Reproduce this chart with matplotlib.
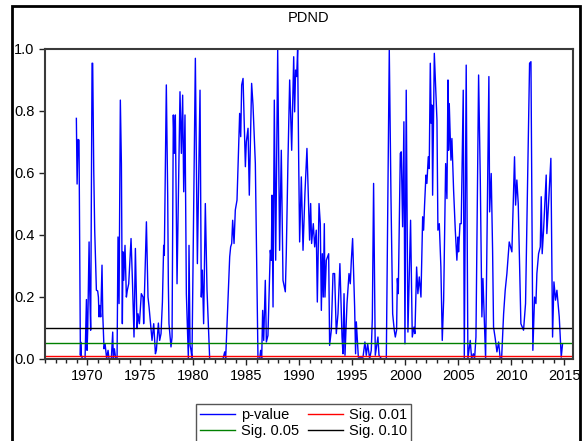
# coding: utf-8
import matplotlib
matplotlib.use('Agg')
import matplotlib.pyplot as plt
from matplotlib.patches import Rectangle
from matplotlib.ticker import MultipleLocator, FormatStrFormatter

###### data ######
years = [1968.96, 1969.03, 1969.12, 1969.21, 1969.34, 1969.37, 1969.43, 1969.53, 1969.78, 1969.91,
         1969.97, 1970.03, 1970.16, 1970.22, 1970.31, 1970.44, 1970.50, 1970.60, 1970.69, 1970.85,
         1970.97, 1971.04, 1971.10, 1971.16, 1971.26, 1971.38, 1971.45, 1971.57, 1971.67, 1971.82,
         1971.95, 1972.04, 1972.26, 1972.39, 1972.45, 1972.55, 1972.67, 1972.80, 1972.89, 1972.99,
         1973.11, 1973.21, 1973.30, 1973.36, 1973.43, 1973.55, 1973.68, 1973.77, 1973.90, 1974.12,
         1974.25, 1974.40, 1974.53, 1974.69, 1974.78, 1974.91, 1975.09, 1975.25, 1975.31, 1975.57,
         1975.72, 1975.82, 1976.01, 1976.10, 1976.26, 1976.42, 1976.51, 1976.70, 1976.82, 1976.95,
         1977.08, 1977.20, 1977.26, 1977.45, 1977.58, 1977.64, 1977.70, 1977.89, 1977.99, 1978.11,
         1978.21, 1978.30, 1978.46, 1978.74, 1978.87, 1978.99, 1979.09, 1979.21, 1979.34, 1979.53,
         1979.59, 1979.69, 1979.78, 1979.87, 1980.19, 1980.38, 1980.63,
         1980.75, 1980.85, 1980.97, 1981.13, 1981.29, 1981.54, 1982.80, 1982.96, 1983.05, 1983.43,
         1983.52, 1983.62, 1983.71, 1983.84, 1983.96, 1984.12, 1984.37, 1984.47, 1984.56, 1984.69,
         1984.91, 1985.00, 1985.16, 1985.28, 1985.50, 1985.63, 1985.85, 1986.10, 1986.26, 1986.35,
         1986.45, 1986.54, 1986.64, 1986.79, 1986.89, 1987.04, 1987.14, 1987.26, 1987.36, 1987.42,
         1987.52, 1987.64, 1987.77, 1987.96, 1988.14, 1988.30, 1988.46, 1988.68, 1988.77, 1988.93,
         1989.09, 1989.28, 1989.47, 1989.56, 1989.65, 1989.75, 1989.84, 1989.94, 1990.03, 1990.19,
         1990.35, 1990.53, 1990.72, 1990.97, 1991.07, 1991.16, 1991.32, 1991.45, 1991.60, 1991.70,
         1991.86, 1991.98, 1992.08, 1992.17, 1992.26, 1992.36, 1992.42, 1992.55, 1992.77, 1992.86,
         1993.02, 1993.18, 1993.33, 1993.49, 1993.65, 1993.83, 1994.03, 1994.12, 1994.22, 1994.31,
         1994.50, 1994.69, 1994.81, 1994.91, 1995.03, 1995.22, 1995.31, 1995.38, 1995.57, 1996.01,
         1996.19, 1996.32, 1996.45, 1996.64, 1996.79, 1996.89, 1997.01, 1997.17, 1997.42, 1997.52,
         1997.74, 1998.21,
         1998.49, 1998.65, 1998.81, 1998.96, 1999.06, 1999.18, 1999.25, 1999.34, 1999.53, 1999.62,
         1999.75, 1999.87, 1999.97, 2000.09, 2000.25, 2000.50, 2000.66, 2000.82, 2000.91, 2001.07,
         2001.19, 2001.32, 2001.48, 2001.64, 2001.73, 2001.82, 2001.95, 2002.04, 2002.17, 2002.26,
         2002.36, 2002.45, 2002.52, 2002.58, 2002.74, 2002.99, 2003.08, 2003.21, 2003.36, 2003.49,
         2003.62, 2003.81, 2003.93, 2004.03, 2004.09, 2004.15, 2004.31, 2004.40, 2004.56, 2004.72,
         2004.87, 2004.97, 2005.03, 2005.16, 2005.28, 2005.47, 2005.57, 2005.75, 2005.91, 2006.13,
         2006.26, 2006.42, 2006.54, 2006.67, 2006.92, 2007.08, 2007.23, 2007.33, 2007.58, 2007.89,
         2007.96, 2008.11, 2008.24, 2008.33, 2008.49, 2008.65, 2008.81, 2008.96, 2009.09, 2009.28,
         2009.43, 2009.59, 2009.81, 2010.06, 2010.31, 2010.41, 2010.53, 2010.66, 2010.91, 2011.16,
         2011.35, 2011.73, 2011.86, 2012.04, 2012.20, 2012.33, 2012.42, 2012.58, 2012.74, 2012.83,
         2012.92, 2013.05, 2013.30, 2013.36, 2013.52, 2013.74, 2013.90, 2014.03, 2014.18, 2014.31,
         2014.53, 2014.72, 2014.84]

pvalue = [0.776, 0.564, 0.708, 0.706, 0.011, 0.054, 0.011, 0.0, 0.0, 0.191,
          0.027, 0.092, 0.377, 0.221, 0.092, 0.954, 0.954, 0.609, 0.415, 0.221,
          0.219, 0.199, 0.135, 0.172, 0.135, 0.302, 0.145, 0.032, 0.048, 0.0,
          0.027, 0.0, 0.0, 0.086, 0.0, 0.032, 0.0, 0.0, 0.393, 0.178,
          0.835, 0.630, 0.113, 0.345, 0.253, 0.366, 0.199, 0.221, 0.242, 0.388,
          0.253, 0.070, 0.356, 0.097, 0.145, 0.113, 0.210, 0.199, 0.113, 0.442,
          0.199, 0.167, 0.092, 0.059, 0.113, 0.016, 0.027, 0.115, 0.059, 0.081,
          0.183, 0.366, 0.334, 0.884, 0.523, 0.242, 0.113, 0.038, 0.070, 0.787,
          0.663, 0.787, 0.242, 0.862, 0.663, 0.851, 0.539, 0.787, 0.210, 0.0,
          0.366, 0.043, 0.027, 0.0, 0.970, 0.307, 0.867,
          0.199, 0.286, 0.113, 0.501, 0.221, 0.0, 0.0, 0.022, 0.0, 0.329,
          0.361, 0.372, 0.447, 0.372, 0.480, 0.512, 0.792, 0.717, 0.884, 0.905,
          0.620, 0.700, 0.744, 0.528, 0.889, 0.819, 0.630, 0.0, 0.0, 0.027,
          0.0, 0.156, 0.059, 0.253, 0.054, 0.075, 0.199, 0.350, 0.318, 0.528,
          0.167, 0.835, 0.318, 0.997, 0.350, 0.673, 0.253, 0.216, 0.339, 0.641,
          0.900, 0.673, 0.975, 0.797, 0.932, 0.911, 0.997, 0.641, 0.377, 0.587,
          0.350, 0.533, 0.679, 0.383, 0.501, 0.372, 0.436, 0.361, 0.415, 0.183,
          0.501, 0.436, 0.156, 0.339, 0.199, 0.436, 0.199, 0.318, 0.339, 0.043,
          0.092, 0.275, 0.275, 0.081, 0.145, 0.307, 0.070, 0.016, 0.210, 0.011,
          0.178, 0.275, 0.242, 0.318, 0.388, 0.167, 0.016, 0.119, 0.005, 0.005,
          0.054, 0.011, 0.048, 0.0, 0.027, 0.129, 0.566, 0.011, 0.070, 0.011,
          0.0, 0.0,
          0.997, 0.523, 0.145, 0.092, 0.070, 0.092, 0.259, 0.210, 0.663, 0.668,
          0.426, 0.765, 0.048, 0.867, 0.086, 0.447, 0.070, 0.102, 0.081, 0.296,
          0.210, 0.264, 0.199, 0.458, 0.415, 0.496, 0.593, 0.566, 0.652, 0.614,
          0.954, 0.760, 0.819, 0.528, 0.986, 0.770, 0.415, 0.436, 0.296, 0.059,
          0.189, 0.630, 0.517, 0.900, 0.673, 0.824, 0.641, 0.711, 0.544, 0.415,
          0.318, 0.393, 0.345, 0.436, 0.436, 0.867, 0.0, 0.948, 0.0, 0.059,
          0.0, 0.016, 0.0, 0.070, 0.916, 0.577, 0.135, 0.259, 0.0, 0.911,
          0.474, 0.598, 0.350, 0.102, 0.065, 0.022, 0.054, 0.0, 0.0, 0.145,
          0.221, 0.275, 0.377, 0.345, 0.652, 0.496, 0.577, 0.501, 0.113, 0.092,
          0.178, 0.954, 0.959, 0.027, 0.199, 0.178, 0.275, 0.339, 0.361, 0.523,
          0.339, 0.415, 0.593, 0.404, 0.501, 0.647, 0.070, 0.248, 0.189, 0.221,
          0.135, 0.005, 0.048]

sig_levels = [0.01, 0.05, 0.10]
sig_labels = ['Sig. 0.01', 'Sig. 0.05', 'Sig. 0.10']
sig_colors = ['#ff0000', '#008000', '#000000']

###### plot ######
plt.rcParams['font.family'] = ['Liberation Sans', 'DejaVu Sans']
fig = plt.figure(figsize=(5.82, 4.41), dpi=100)
ax = fig.add_axes([45/582., 1-358.7/441., (572.7-45)/582., (358.7-49)/441.])

## outer frame like eviews
fig.patches.append(Rectangle((12/582., -0.1), (580-12)/582., 1.1-6/441.,
                             transform=fig.transFigure, fill=False, lw=2, ec='black'))

p_line, = ax.plot(years, pvalue, color='#0000ff', lw=1.0, label='p-value')
sig_lines = []
for lev, lab, col in zip(sig_levels, sig_labels, sig_colors):
    l, = ax.plot([1966.0, 2015.8], [lev, lev], color=col, lw=1.0, label=lab)
    sig_lines.append(l)

ax.set_xlim(1966.0, 2015.8)
ax.set_ylim(0, 1.0)
ax.xaxis.set_major_locator(MultipleLocator(5))
ax.xaxis.set_minor_locator(MultipleLocator(1))
ax.yaxis.set_major_locator(MultipleLocator(0.2))
ax.yaxis.set_major_formatter(FormatStrFormatter('%.1f'))
ax.tick_params(axis='both', which='major', direction='out', length=4.5, width=1,
               labelsize=10.5, pad=3, color='#222222')
ax.tick_params(axis='x', which='minor', direction='out', length=3, width=1, color='#222222')
for s in ax.spines.values():
    s.set_color('#3a3a3a')
    s.set_linewidth(1.5)

fig.text((45+572.7)/2/582., 1-18/441., 'PDND', ha='center', va='center', fontsize=10.5)

leg = ax.legend([p_line, sig_lines[1], sig_lines[0], sig_lines[2]],
                ['p-value', 'Sig. 0.05', 'Sig. 0.01', 'Sig. 0.10'],
                ncol=2, loc='upper center', bbox_to_anchor=(303.5/582., 1-404/441.),
                bbox_transform=fig.transFigure, fontsize=10.5, fancybox=False,
                framealpha=1, edgecolor='#555555', handlelength=2.4, handletextpad=0.4,
                columnspacing=0.6, labelspacing=0.1, borderpad=0.3, borderaxespad=0)
leg.get_frame().set_linewidth(1.0)

plt.savefig('out.png', dpi=100)
